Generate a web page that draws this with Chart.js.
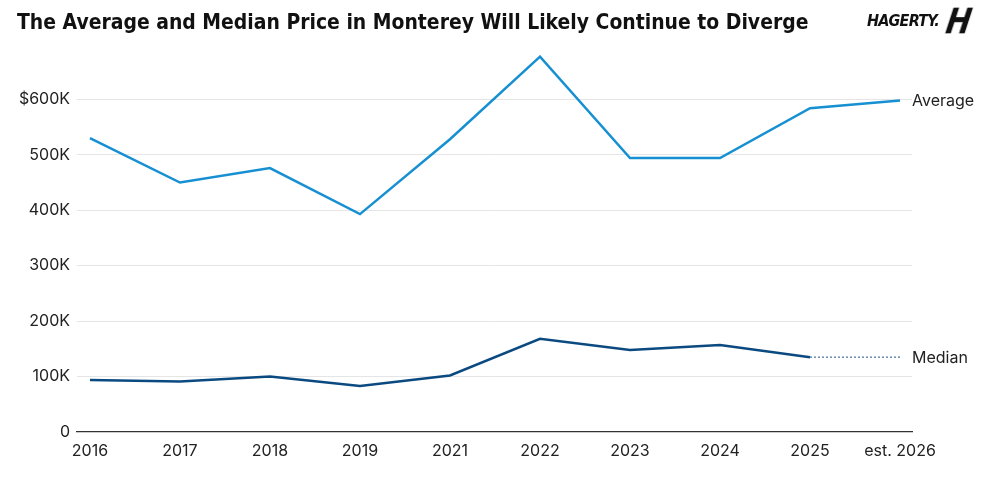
<!DOCTYPE html>
<html>
<head>
<meta charset="utf-8">
<script src="https://cdn.jsdelivr.net/npm/chart.js@4"></script>
<style>
  html, body { margin: 0; padding: 0; background: #fff; }
  #wrap { position: relative; width: 997px; height: 477px; overflow: hidden; }
  #title { position: absolute; left: 17px; top: 9px; font-family: "DejaVu Sans Condensed", "Liberation Sans Narrow", sans-serif; font-weight: bold; font-size: 22px; color: #111; white-space: nowrap; transform: scaleX(0.951); transform-origin: left top; }
  .logo-word { position: absolute; left: 867px; top: 11px; font-family: "DejaVu Sans Condensed", sans-serif; font-weight: bold; font-style: italic; font-size: 16px; letter-spacing: -0.8px; color: #111; white-space: nowrap; }
  .logo-h { position: absolute; left: 953px; top: 1px; font-family: "DejaVu Sans", sans-serif; font-weight: bold; font-size: 35px; color: #111; transform: skewX(-18deg) scaleX(0.85); transform-origin: left top; }
  #chartBox { position: absolute; left: 0; top: 0; width: 997px; height: 477px; }
</style>
</head>
<body>
<div id="wrap">
  <div id="chartBox"><canvas id="chart"></canvas></div>
  <div id="title">The Average and Median Price in Monterey Will Likely Continue to Diverge</div>
  <span class="logo-word">HAGERTY.</span><span class="logo-h">H</span>
</div>
<script>
// categories and values
const years = ["2016", "2017", "2018", "2019", "2021", "2022", "2023", "2024", "2025", "est. 2026"];
const averagePrice = [530000, 450000, 476000, 393000, 528000, 677000, 494000, 494000, 584000, 598000];
const medianPrice = [94000, 91000, 100000, 83000, 102000, 168000, 148000, 157000, 135000, null];
const medianEstimate = [null, null, null, null, null, null, null, null, 135000, 135000];
const yTicks = [0, 100000, 200000, 300000, 400000, 500000, 600000];

const toPoints = arr => arr.map((v, i) => ({ x: i, y: v }));

// names next to the last point of each line
const endLabels = {
  id: "endLabels",
  afterDatasetsDraw(chart) {
    const ctx = chart.ctx;
    ctx.save();
    ctx.font = "16px Inter, sans-serif";
    ctx.fillStyle = "#222";
    ctx.textBaseline = "middle";
    ctx.textAlign = "left";
    const x = chart.chartArea.right;
    const pa = chart.getDatasetMeta(0).data[9];
    const pm = chart.getDatasetMeta(2).data[9];
    ctx.fillText("Average", x, pa.y + 1);
    ctx.fillText("Median", x, pm.y + 1);
    ctx.restore();
  }
};

new Chart(document.getElementById("chart"), {
  type: "line",
  data: {
    datasets: [
      { label: "Average", data: toPoints(averagePrice), borderColor: "#1690d2", borderWidth: 2.5, pointRadius: 0, tension: 0 },
      { label: "Median", data: toPoints(medianPrice), borderColor: "#0b4a80", borderWidth: 2.5, pointRadius: 0, tension: 0 },
      { label: "Median est.", data: toPoints(medianEstimate), borderColor: "#3f6f98", borderWidth: 1.2, borderDash: [2, 2], pointRadius: 0, tension: 0 }
    ]
  },
  options: {
    responsive: true,
    maintainAspectRatio: false,
    animation: false,
    layout: { padding: { top: 55, right: 85, bottom: 0, left: 0 } },
    plugins: { legend: { display: false }, tooltip: { enabled: false } },
    scales: {
      x: {
        type: "linear",
        min: -0.144,
        max: 9.133,
        afterBuildTicks: axis => { axis.ticks = years.map((_, i) => ({ value: i })); },
        afterFit: axis => { axis.height = 45; },
        ticks: {
          autoSkip: false,
          maxRotation: 0,
          padding: 2,
          color: "#222",
          font: { family: "Inter, sans-serif", size: 16 },
          callback: v => years[v]
        },
        grid: { display: false },
        border: { display: true, color: "#333", width: 1.2 }
      },
      y: {
        min: 0,
        max: 680000,
        afterBuildTicks: axis => { axis.ticks = yTicks.map(v => ({ value: v })); },
        afterFit: axis => { axis.width = 77; },
        ticks: {
          padding: 7,
          color: "#222",
          font: { family: "Inter, sans-serif", size: 16 },
          callback: v => v === 0 ? "0" : (v === 600000 ? "$" : "") + (v / 1000) + "K"
        },
        grid: { color: ctx => ctx.tick.value === 0 ? "rgba(0,0,0,0)" : "#e5e5e5", drawTicks: false, lineWidth: 1 },
        border: { display: false }
      }
    }
  },
  plugins: [endLabels]
});
</script>
</body>
</html>
